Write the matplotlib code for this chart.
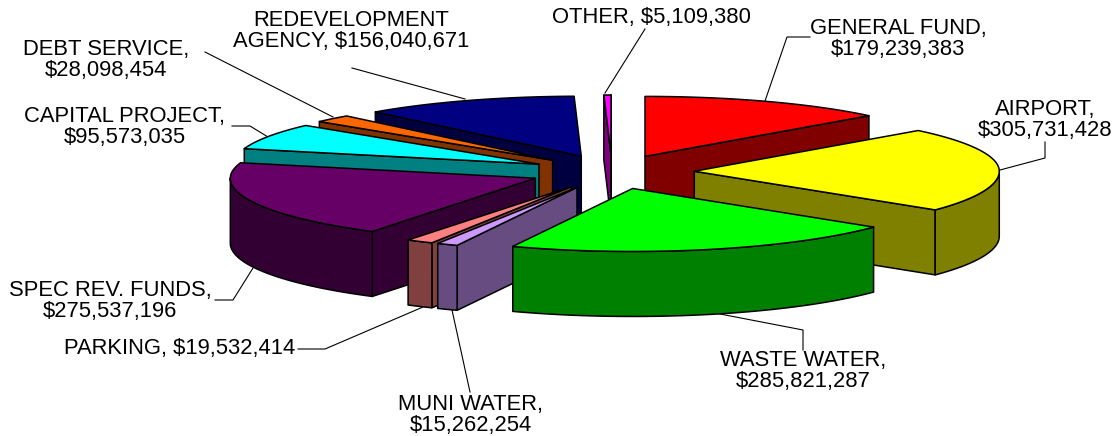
import numpy as np
import matplotlib
matplotlib.use('Agg')
import matplotlib.pyplot as plt
from matplotlib.patches import Polygon

plt.rcParams['font.family'] = ['Liberation Sans', 'DejaVu Sans']

names = ['GENERAL FUND', 'AIRPORT', 'WASTE WATER', 'MUNI WATER', 'PARKING',
         'SPEC REV. FUNDS', 'CAPITAL PROJECT', 'DEBT SERVICE',
         'REDEVELOPMENT\nAGENCY', 'OTHER']
values = [179239383, 305731428, 285821287, 15262254, 19532414,
          275537196, 95573035, 28098454, 156040671, 5109380]
top_colors = ['#FF0000', '#FFFF00', '#00FF00', '#CC99FF', '#FF8080',
              '#660066', '#00FFFF', '#FF6600', '#000080', '#FF00FF']
side_colors = ['#800000', '#808000', '#008000', '#664C80', '#804040',
               '#330033', '#008080', '#803300', '#000040', '#800080']

# pie layout, in pixels
cx, cy = 612, 172
rx = 305
ry_front, ry_back = 63, 60
depth = 65
explode = 0.27

# label centres and leader lines, in pixels
label_pos = [(898, 39), (1045, 120), (803, 371), (471, 415), (180, 348),
             (110, 301), (125, 127), (106, 60), (351, 31), (651, 18)]
leaders = [[(810, 37), (787, 37), (765, 101)],
           [(1045, 142), (1045, 158), (1000, 170)],
           [(803, 350), (803, 330), (715, 313)],
           [(470, 392), (452, 310)],
           [(298, 349), (325, 349), (423, 307)],
           [(215, 300), (233, 300), (253, 268)],
           [(232, 126), (250, 126), (268, 137)],
           [(205, 52), (333, 117)],
           [(352, 68), (465, 99)],
           [(645, 29), (605, 93)]]

fig = plt.figure(figsize=(11.17, 4.36), dpi=100)
ax = fig.add_axes([0, 0, 1, 1])
ax.set_xlim(0, 1117)
ax.set_ylim(436, 0)
ax.axis('off')


def point(angle, ox, oy):
    # clockwise from 12 o'clock, the far half is a bit flatter
    a = np.radians(angle)
    c = np.cos(a)
    return ox + rx * np.sin(a), oy - np.where(c > 0, ry_back, ry_front) * c


def face(pts, color, z):
    ax.add_patch(Polygon(pts, closed=True, facecolor=color, edgecolor='black',
                         linewidth=1.1, joinstyle='round', zorder=z))


shares = np.array(values) / sum(values) * 360
ends = np.cumsum(shares)
starts = ends - shares
mids = (starts + ends) / 2

# back slices first, so the front ones paint over them
order = sorted(range(len(values)), key=lambda k: -abs(mids[k] - 180))
for z, i in enumerate(order):
    a = np.radians(mids[i])
    ox = cx + explode * rx * np.sin(a)
    oy = cy - explode * ry_front * np.cos(a)
    base = z * 10

    # a cut face only shows when it turns towards the viewer
    visible = []
    if np.sin(np.radians(starts[i])) < 0:
        visible.append(starts[i])
    if np.sin(np.radians(ends[i])) > 0:
        visible.append(ends[i])
    for edge in visible:
        x, y = point(edge, ox, oy)
        face([(ox, oy), (x, y), (x, y + depth), (ox, oy + depth)], side_colors[i], base + 1)

    lo, hi = max(starts[i], 90), min(ends[i], 270)
    if hi > lo:
        th = np.linspace(lo, hi, 60)
        xs, ys = point(th, ox, oy)
        outer = list(zip(xs, ys)) + list(zip(xs[::-1], ys[::-1] + depth))
        face(outer, side_colors[i], base + 2)

    th = np.linspace(starts[i], ends[i], 80)
    xs, ys = point(th, ox, oy)
    face([(ox, oy)] + list(zip(xs, ys)), top_colors[i], base + 3)

for i, name in enumerate(names):
    sep = ', ' if name in ('PARKING', 'OTHER') or '\n' in name else ',\n'
    ax.text(label_pos[i][0], label_pos[i][1], '{}{}${:,}'.format(name, sep, values[i]),
            ha='center', va='center', fontsize=15.8, color='black',
            linespacing=1.04, zorder=500)
    xs, ys = zip(*leaders[i])
    ax.plot(xs, ys, color='black', linewidth=0.8, zorder=0)

fig.savefig('out.png', dpi=100)
